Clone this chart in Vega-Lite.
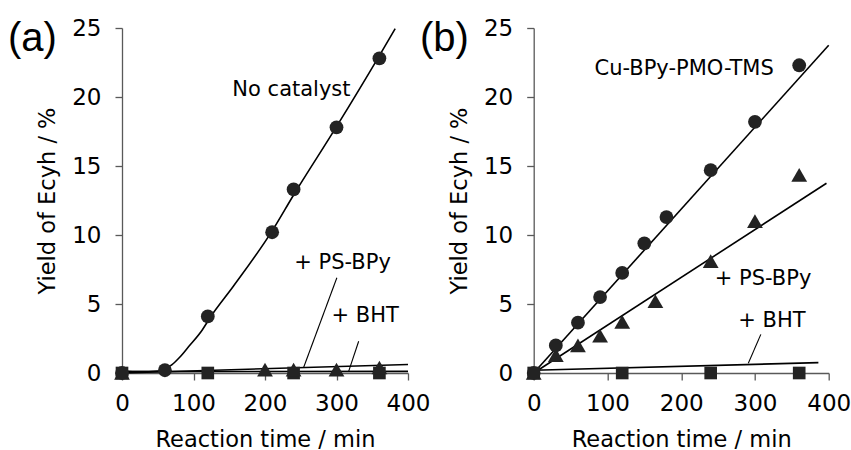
{
  "$schema": "https://vega.github.io/schema/vega-lite/v6.json",
  "background": "white",
  "padding": {"left": 8, "top": 17, "right": 0, "bottom": 0},
  "bounds": "flush",
  "spacing": 125.7,
  "datasets": {
    "pointsA": [
      {"series": "+ BHT", "time": 0, "yield": 0},
      {"series": "+ BHT", "time": 120, "yield": 0},
      {"series": "+ BHT", "time": 240, "yield": 0},
      {"series": "+ BHT", "time": 360, "yield": 0},
      {"series": "+ PS-BPy", "time": 0, "yield": 0},
      {"series": "+ PS-BPy", "time": 200, "yield": 0.25},
      {"series": "+ PS-BPy", "time": 240, "yield": 0.25},
      {"series": "+ PS-BPy", "time": 300, "yield": 0.25},
      {"series": "+ PS-BPy", "time": 360, "yield": 0.4},
      {"series": "No catalyst", "time": 0, "yield": 0},
      {"series": "No catalyst", "time": 60, "yield": 0.2},
      {"series": "No catalyst", "time": 120, "yield": 4.1},
      {"series": "No catalyst", "time": 210, "yield": 10.2},
      {"series": "No catalyst", "time": 240, "yield": 13.3},
      {"series": "No catalyst", "time": 300, "yield": 17.8},
      {"series": "No catalyst", "time": 360, "yield": 22.8}
    ],
    "trendA": [
      {"series": "No catalyst", "time": 0, "yield": 0.15},
      {"series": "No catalyst", "time": 25, "yield": 0.1},
      {"series": "No catalyst", "time": 50, "yield": 0.15},
      {"series": "No catalyst", "time": 60, "yield": 0.3},
      {"series": "No catalyst", "time": 70, "yield": 0.6},
      {"series": "No catalyst", "time": 80, "yield": 1.1},
      {"series": "No catalyst", "time": 93, "yield": 1.9},
      {"series": "No catalyst", "time": 112, "yield": 3.1},
      {"series": "No catalyst", "time": 123, "yield": 4.0},
      {"series": "No catalyst", "time": 156, "yield": 6.3},
      {"series": "No catalyst", "time": 210, "yield": 10.3},
      {"series": "No catalyst", "time": 240, "yield": 12.9},
      {"series": "No catalyst", "time": 300, "yield": 17.85},
      {"series": "No catalyst", "time": 360, "yield": 23.0},
      {"series": "No catalyst", "time": 382, "yield": 24.95},
      {"series": "+ PS-BPy", "time": 0, "yield": 0},
      {"series": "+ PS-BPy", "time": 400, "yield": 0.62},
      {"series": "+ BHT", "time": 0, "yield": 0.1},
      {"series": "+ BHT", "time": 400, "yield": 0.12}
    ],
    "leadA": [
      {"time": 300.5, "yield": 6.9, "time2": 254, "yield2": 0.4},
      {"time": 331, "yield": 2.3, "time2": 317, "yield2": 0.12}
    ],
    "labelsA": [
      {"label": "No catalyst", "time": 237, "yield": 20.5},
      {"label": "+ PS-BPy", "time": 308.5, "yield": 8.0},
      {"label": "+ BHT", "time": 340, "yield": 4.15}
    ],
    "panelA": [
      {"label": "(a)", "time": -159.4, "yield": 23.33}
    ],
    "pointsB": [
      {"series": "+ BHT", "time": 0, "yield": 0},
      {"series": "+ BHT", "time": 120, "yield": 0},
      {"series": "+ BHT", "time": 240, "yield": 0},
      {"series": "+ BHT", "time": 360, "yield": 0},
      {"series": "+ PS-BPy", "time": 0, "yield": 0},
      {"series": "+ PS-BPy", "time": 30, "yield": 1.3},
      {"series": "+ PS-BPy", "time": 60, "yield": 2.0},
      {"series": "+ PS-BPy", "time": 90, "yield": 2.7},
      {"series": "+ PS-BPy", "time": 120, "yield": 3.7},
      {"series": "+ PS-BPy", "time": 165, "yield": 5.2},
      {"series": "+ PS-BPy", "time": 240, "yield": 8.1},
      {"series": "+ PS-BPy", "time": 300, "yield": 11.0},
      {"series": "+ PS-BPy", "time": 360, "yield": 14.35},
      {"series": "Cu-BPy-PMO-TMS", "time": 0, "yield": 0},
      {"series": "Cu-BPy-PMO-TMS", "time": 30, "yield": 2.0},
      {"series": "Cu-BPy-PMO-TMS", "time": 60, "yield": 3.65},
      {"series": "Cu-BPy-PMO-TMS", "time": 90, "yield": 5.5},
      {"series": "Cu-BPy-PMO-TMS", "time": 120, "yield": 7.25},
      {"series": "Cu-BPy-PMO-TMS", "time": 150, "yield": 9.4},
      {"series": "Cu-BPy-PMO-TMS", "time": 180, "yield": 11.3},
      {"series": "Cu-BPy-PMO-TMS", "time": 240, "yield": 14.7},
      {"series": "Cu-BPy-PMO-TMS", "time": 300, "yield": 18.2},
      {"series": "Cu-BPy-PMO-TMS", "time": 360, "yield": 22.3}
    ],
    "trendB": [
      {"series": "Cu-BPy-PMO-TMS", "time": 0, "yield": 0},
      {"series": "Cu-BPy-PMO-TMS", "time": 400, "yield": 23.75},
      {"series": "+ PS-BPy", "time": 0, "yield": 0},
      {"series": "+ PS-BPy", "time": 397, "yield": 13.75},
      {"series": "+ BHT", "time": 0, "yield": 0.2},
      {"series": "+ BHT", "time": 386, "yield": 0.75}
    ],
    "leadB": [
      {"time": 308, "yield": 2.8, "time2": 291, "yield2": 0.7}
    ],
    "labelsB": [
      {"label": "Cu-BPy-PMO-TMS", "time": 204, "yield": 22.05},
      {"label": "+ PS-BPy", "time": 311, "yield": 6.8},
      {"label": "+ BHT", "time": 323, "yield": 3.8}
    ],
    "panelB": [
      {"label": "(b)", "time": -154.3, "yield": 23.33}
    ]
  },
  "hconcat": [
    {
      "width": 286,
      "height": 345,
      "encoding": {
        "x": {"field": "time", "type": "quantitative", "scale": {"domain": [0, 400], "nice": false, "zero": false}, "axis": {"title": "Reaction time / min", "values": [0, 100, 200, 300, 400]}},
        "y": {"field": "yield", "type": "quantitative", "scale": {"domain": [0, 25], "nice": false, "zero": false}, "axis": {"title": "Yield of Ecyh / %", "values": [0, 5, 10, 15, 20, 25]}}
      },
      "layer": [
        {"data": {"name": "trendA"}, "mark": {"type": "line", "color": "#000000", "strokeWidth": 1.6, "interpolate": "monotone"}, "encoding": {"detail": {"field": "series"}}},
        {"data": {"name": "leadA"}, "mark": {"type": "rule", "color": "#000000", "strokeWidth": 1.1}, "encoding": {"x2": {"field": "time2"}, "y2": {"field": "yield2"}}},
        {"data": {"name": "pointsA"}, "mark": {"type": "point", "filled": true, "opacity": 1, "color": "#232323"}, "encoding": {
          "shape": {"field": "series", "type": "nominal", "scale": {"domain": ["No catalyst", "Cu-BPy-PMO-TMS", "+ PS-BPy", "+ BHT"], "range": ["circle", "circle", "triangle-up", "square"]}, "legend": null},
          "size": {"field": "series", "type": "nominal", "scale": {"type": "ordinal", "domain": ["No catalyst", "Cu-BPy-PMO-TMS", "+ PS-BPy", "+ BHT"], "range": [190, 190, 250, 160]}, "legend": null}
        }},
        {"data": {"name": "labelsA"}, "mark": {"type": "text", "font": "DejaVu Sans", "fontSize": 21, "align": "center", "baseline": "middle", "color": "#000000"}, "encoding": {"text": {"field": "label"}}},
        {"data": {"name": "panelA"}, "mark": {"type": "text", "font": "Liberation Sans", "fontSize": 40, "align": "left", "baseline": "alphabetic", "color": "#000000"}, "encoding": {"text": {"field": "label"}}}
      ]
    },
    {
      "width": 295,
      "height": 345,
      "encoding": {
        "x": {"field": "time", "type": "quantitative", "scale": {"domain": [0, 400], "nice": false, "zero": false}, "axis": {"title": "Reaction time / min", "values": [0, 100, 200, 300, 400]}},
        "y": {"field": "yield", "type": "quantitative", "scale": {"domain": [0, 25], "nice": false, "zero": false}, "axis": {"title": "Yield of Ecyh / %", "values": [0, 5, 10, 15, 20, 25]}}
      },
      "layer": [
        {"data": {"name": "trendB"}, "mark": {"type": "line", "color": "#000000", "strokeWidth": 1.6, "interpolate": "monotone"}, "encoding": {"detail": {"field": "series"}}},
        {"data": {"name": "leadB"}, "mark": {"type": "rule", "color": "#000000", "strokeWidth": 1.1}, "encoding": {"x2": {"field": "time2"}, "y2": {"field": "yield2"}}},
        {"data": {"name": "pointsB"}, "mark": {"type": "point", "filled": true, "opacity": 1, "color": "#232323"}, "encoding": {
          "shape": {"field": "series", "type": "nominal", "scale": {"domain": ["No catalyst", "Cu-BPy-PMO-TMS", "+ PS-BPy", "+ BHT"], "range": ["circle", "circle", "triangle-up", "square"]}, "legend": null},
          "size": {"field": "series", "type": "nominal", "scale": {"type": "ordinal", "domain": ["No catalyst", "Cu-BPy-PMO-TMS", "+ PS-BPy", "+ BHT"], "range": [190, 190, 250, 160]}, "legend": null}
        }},
        {"data": {"name": "labelsB"}, "mark": {"type": "text", "font": "DejaVu Sans", "fontSize": 21, "align": "center", "baseline": "middle", "color": "#000000"}, "encoding": {"text": {"field": "label"}}},
        {"data": {"name": "panelB"}, "mark": {"type": "text", "font": "Liberation Sans", "fontSize": 40, "align": "left", "baseline": "alphabetic", "color": "#000000"}, "encoding": {"text": {"field": "label"}}}
      ]
    }
  ],
  "config": {
    "view": {"stroke": null},
    "axis": {
      "grid": false,
      "domainColor": "#595959",
      "tickColor": "#595959",
      "domainWidth": 1.3,
      "tickWidth": 1.3,
      "tickSize": 7,
      "labelFont": "DejaVu Sans",
      "labelFontSize": 23,
      "labelColor": "#000000",
      "labelFlush": false,
      "labelOverlap": false,
      "titleFont": "DejaVu Sans",
      "titleFontSize": 22.5,
      "titleFontWeight": "normal",
      "titleColor": "#000000"
    },
    "axisX": {"labelPadding": 12, "titlePadding": 13},
    "axisY": {"labelPadding": 14, "titlePadding": 12}
  }
}
